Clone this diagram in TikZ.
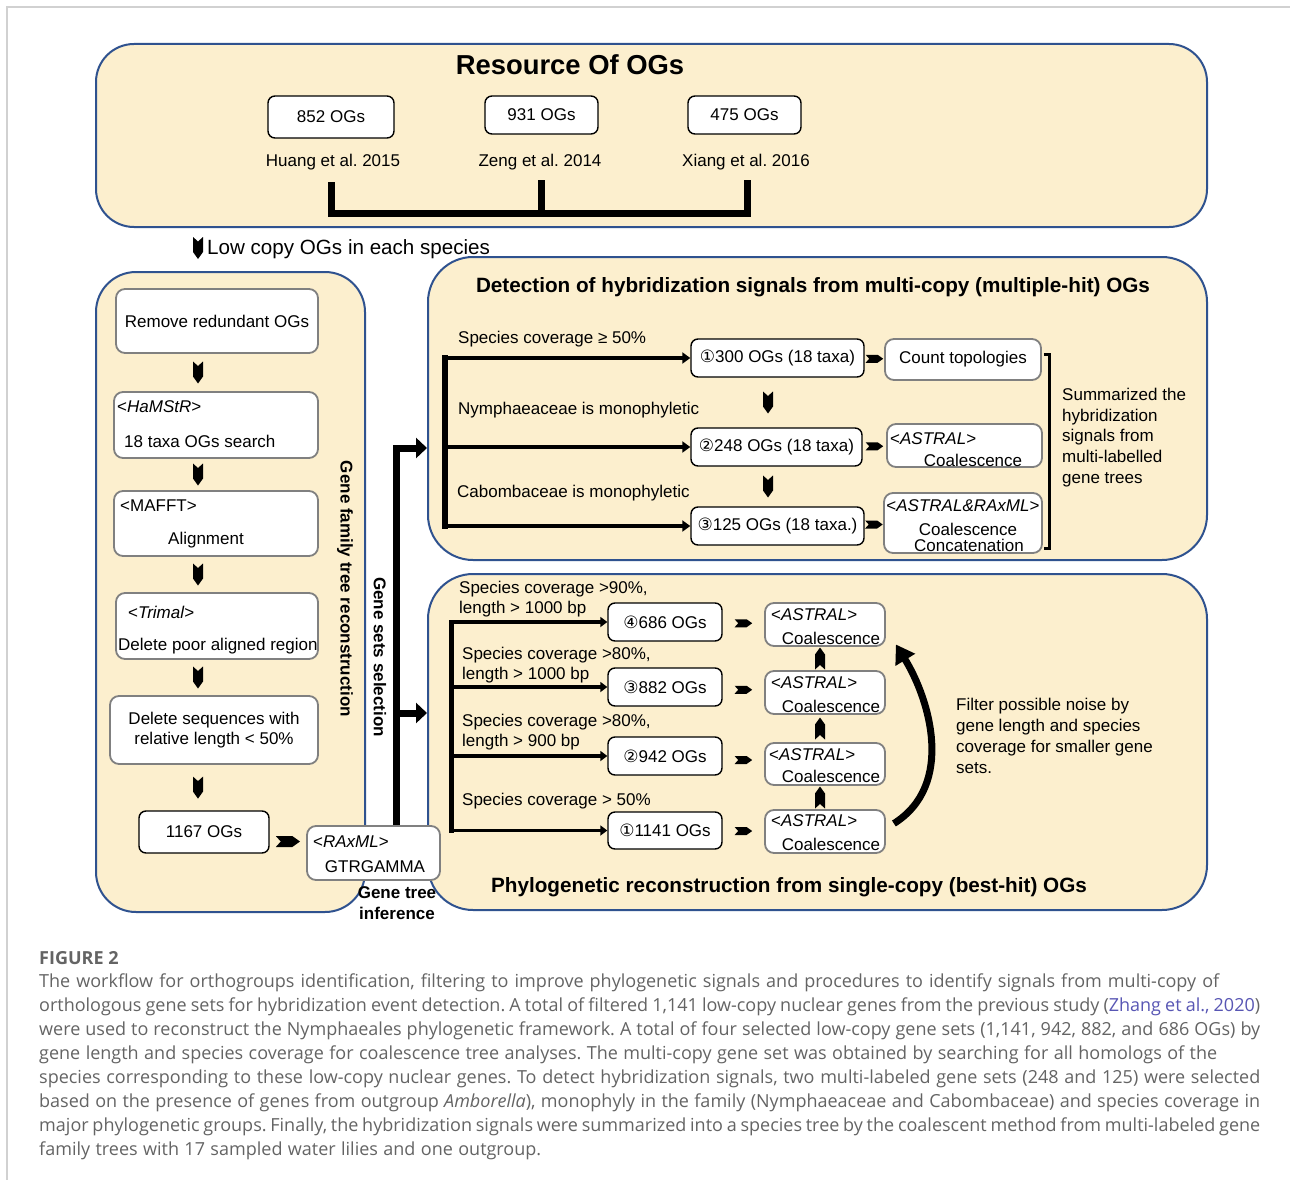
\documentclass[tikz,border=0pt]{standalone}
\usepackage{fontspec}
\setmainfont{Liberation Sans}
\newfontfamily\djv{DejaVu Sans}
\newfontfamily\capfont{Open Sans}
\usetikzlibrary{calc,arrows.meta}
\definecolor{cream}{RGB}{252,239,206}
\definecolor{pblue}{RGB}{47,82,143}
\definecolor{boxgray}{RGB}{128,128,128}
\definecolor{capgray}{RGB}{100,100,100}
\definecolor{linkblue}{RGB}{88,86,180}
\newcommand\myfs[2]{\fontsize{#1}{#2}\selectfont}
\newcommand\capline[2]{\makebox[#1][s]{#2}}
\frenchspacing
\tikzset{
 panel/.style={draw=pblue, fill=cream, line width=2pt, inner sep=0pt},
 wbox/.style={draw=boxgray, fill=white, line width=1.8pt, rounded corners=9pt, inner sep=0pt},
 kbox/.style={draw=black, fill=white, line width=1.4pt, rounded corners=7pt, inner sep=0pt},
 hdr/.style={font=\bfseries\myfs{20.7}{24}},
 vlab/.style={font=\bfseries\myfs{17}{20}, rotate=-90},
 bar/.style={line width=7pt},
 selarr/.style={line width=7pt, -{Triangle[length=11pt,width=20pt]}},
 darr/.style={line width=4.5pt, -{Triangle[length=8pt,width=11pt]}},
 larr/.style={line width=3.5pt, -{Triangle[length=7pt,width=10pt]}},
 chev/.pic={\fill (-5,-11) -- (0,-6.5) -- (5,-11) -- (5,4) -- (0,11) -- (-5,4) -- cycle;},
 captxt/.style={anchor=west, font=\capfont\frenchspacing\myfs{18}{24}, text=capgray},
}
\begin{document}
\frenchspacing
\begin{tikzpicture}[x=1pt,y=-1pt, every node/.style={inner sep=0pt, font=\frenchspacing\myfs{17}{20.5}}]
\useasboundingbox (0,0) rectangle (1290,1180);
\fill[white] (0,0) rectangle (1290,1180);
\draw[black!18, line width=1.2pt] (7,1180) -- (7,7) -- (1290,7);

% ---------- panels ----------
\node[panel, rounded corners=38pt, minimum width=1111pt, minimum height=183pt] (top) at (651.5,135.5) {};
\node[panel, rounded corners=40pt, minimum width=269pt, minimum height=640pt] (lp) at (230.5,592) {};
\node[panel, rounded corners=45pt, minimum width=779pt, minimum height=303pt] (dp) at (817.5,408.5) {};
\node[panel, rounded corners=45pt, minimum width=779pt, minimum height=336pt] (pp) at (817.5,742) {};

% ---------- resource of OGs ----------
\node[font=\bfseries\myfs{27.4}{30}] (ttl) at (570,65) {Resource Of OGs};
\node[kbox, minimum width=126pt, minimum height=42pt] (b1) at (331,117) {852 OGs};
\node[kbox, minimum width=113pt, minimum height=38pt] (b2) at (541.5,115) {931 OGs};
\node[kbox, minimum width=113pt, minimum height=38pt] (b3) at (744.5,115) {475 OGs};
\node (s1) at (333,162) {Huang et al. 2015};
\node (s2) at (540,162) {Zeng et al. 2014};
\node (s3) at (746,162) {Xiang et al. 2016};
\coordinate (j1) at (331,213);
\coordinate (j3) at (747,213);
\draw[bar] ($(s1.south -| j1)+(0,12)$) -- (j1) -- (j3) -- ($(s3.south -| j3)+(0,10)$);
\draw[bar] ($(s2.south)+(1,10)$) -- ($(s2.south |- j1)+(1,0)$);

% ---------- low copy ----------
\pic at (198,248) {chev};
\node[anchor=west, font=\myfs{20.6}{24}] (lowc) at (207,249) {Low copy OGs in each species};

% ---------- left column ----------
\node[wbox, minimum width=202pt, minimum height=64pt] (rm) at (217,321) {Remove redundant OGs};
\node[wbox, minimum width=204pt, minimum height=66pt] (ham) at (216,425) {};
\node[anchor=west] (hamt) at (117,407) {<\textit{HaMStR}>};
\node[anchor=west] (hamd) at (124,441) {18 taxa OGs search};
\node[wbox, minimum width=204pt, minimum height=65pt] (maf) at (216,523.5) {};
\node[anchor=west] (maft) at (120,506) {<MAFFT>};
\node (mafd) at (206,540) {Alignment};
\node[wbox, minimum width=202pt, minimum height=66pt] (tri) at (217,626) {};
\node[anchor=west] (trit) at (128,612) {<\textit{Trimal}>};
\node[anchor=west] (trid) at (118,646) {Delete poor aligned region};
\node[wbox, minimum width=208pt, minimum height=68pt, align=center] (del) at (214,730) {Delete sequences with\\relative length < 50\%};
\node[kbox, minimum width=130pt, minimum height=42pt] (og) at (204,832) {1167 OGs};

\coordinate (cx) at (198,0);
\coordinate (m1) at ($(rm.south)!0.5!(ham.north)$);
\coordinate (m2) at ($(ham.south)!0.5!(maf.north)$);
\coordinate (m3) at ($(maf.south)!0.5!(tri.north)$);
\coordinate (m4) at ($(tri.south)!0.5!(del.north)$);
\coordinate (m5) at ($(del.south)!0.5!(og.north)$);
\foreach \m in {m1,m2,m3,m4,m5} { \pic at (\m -| cx) {chev}; }

\node[wbox, minimum width=133pt, minimum height=54pt] (rax) at (373.5,853) {};
\node[anchor=west] (raxt) at (313,842) {<\textit{RAxML}>};
\node (raxd) at (375,867) {GTRGAMMA};
\coordinate (m6) at ($(og.east)!0.5!(rax.west)$);
\pic[rotate=90, scale=1.1] at ($(m6)+(0,-1)$) {chev};
\node[font=\bfseries\myfs{17}{21}, align=center] (gti) at (397,903) {Gene tree\\inference};

\node[vlab] (gftr) at (345,589) {Gene family tree reconstruction};
\node[vlab] (gss) at (380,657) {Gene sets selection};

\coordinate (sa) at (396,448);
\coordinate (sb) at (396,713);
\draw[selarr] (rax.north -| sa) -- (sa) -- (sa -| dp.west);
\draw[selarr] (sb) -- (sb -| pp.west);

% ---------- detection panel ----------
\node[hdr] (dtt) at (813,287) {Detection of hybridization signals from multi-copy (multiple-hit) OGs};
\node[kbox, minimum width=173pt, minimum height=38pt] (d1) at (777.5,358) {{\djv ①}300 OGs (18 taxa)};
\node[kbox, minimum width=171pt, minimum height=38pt] (d2) at (776.5,447) {{\djv ②}248 OGs (18 taxa)};
\node[kbox, minimum width=173pt, minimum height=38pt] (d3) at (777.5,526) {{\djv ③}125 OGs (18 taxa.)};
\node[anchor=west] (dl1) at (458,339) {Species coverage ≥ 50\%};
\node[anchor=west] (dl2) at (458,410) {Nymphaeaceae is monophyletic};
\node[anchor=west] (dl3) at (457,493) {Cabombaceae is monophyletic};
\coordinate (dx) at (445,0);
\draw[line width=6pt, line cap=rect] (d1.west -| dx) -- (d3.west -| dx);
\draw[darr] (d1.west -| dx) -- (d1.west);
\draw[darr] (d2.west -| dx) -- (d2.west);
\draw[darr] (d3.west -| dx) -- (d3.west);
\pic at ($(d1.south)!0.5!(d2.north)+(-9,0)$) {chev};
\pic at ($(d2.south)!0.5!(d3.north)+(-9,0)$) {chev};

\node[wbox, minimum width=156pt, minimum height=41pt] (ct) at (963,359.5) {Count topologies};
\node[wbox, minimum width=155pt, minimum height=43pt] (as1) at (964.5,445.5) {};
\node[anchor=west] (as1t) at (890,439) {<\textit{ASTRAL}>};
\node (as1d) at (973,460) {Coalescence};
\node[wbox, minimum width=158pt, minimum height=60pt] (as2) at (963,523) {};
\node (as2t) at (963,506) {<\textit{ASTRAL\&RAxML}>};
\node (as2d) at (968,529) {Coalescence};
\node (as2e) at (969,545) {Concatenation};
\pic[rotate=90, scale=0.8] at ($(d1.east)!0.5!(ct.west)$) {chev};
\pic[rotate=90, scale=0.8] at ($(d2.east)!0.5!(as1.west)$) {chev};
\pic[rotate=90, scale=0.8] at ($(d3.east)!0.5!(as2.west)$) {chev};
\draw[line width=3pt] ($(ct.east)+(2,-5)$) -- ++(6,0) |- ($(as2.east)+(1,25)$);
\node[anchor=west, align=left, font=\myfs{17}{20.75}] (sum) at (1062,437.5) {Summarized the\\hybridization\\signals from\\multi-labelled\\gene trees};

% ---------- phylogenetic panel ----------
\node[hdr] (ptt) at (789,887) {Phylogenetic reconstruction from single-copy (best-hit) OGs};
\node[kbox, minimum width=114pt, minimum height=38pt] (p4) at (665,622) {{\djv ④}686 OGs};
\node[kbox, minimum width=114pt, minimum height=38pt] (p3) at (665,687) {{\djv ③}882 OGs};
\node[kbox, minimum width=114pt, minimum height=38pt] (p2) at (665,756) {{\djv ②}942 OGs};
\node[kbox, minimum width=114pt, minimum height=37pt] (p1) at (665,830.5) {{\djv ①}1141 OGs};
\node[anchor=west, align=left, font=\myfs{17}{20}] (pl4) at (459,599) {Species coverage >90\%,\\length > 1000 bp};
\node[anchor=west, align=left, font=\myfs{17}{20}] (pl3) at (462,665.5) {Species coverage >80\%,\\length > 1000 bp};
\node[anchor=west, align=left, font=\myfs{17}{20}] (pl2) at (462,732) {Species coverage >80\%,\\length > 900 bp};
\node[anchor=west] (pl1) at (462,801) {Species coverage > 50\%};
\coordinate (px) at (451,0);
\draw[line width=5pt, line cap=rect] (p4.west -| px) -- (p1.west -| px);
\foreach \p in {p4,p3,p2,p1} { \draw[larr] (\p.west -| px) -- (\p.west); }

\node[wbox, minimum width=120pt, minimum height=43pt] (a4) at (825,624.5) {};
\node[wbox, minimum width=120pt, minimum height=43pt] (a3) at (825,692.5) {};
\node[wbox, minimum width=120pt, minimum height=42pt] (a2) at (825,764) {};
\node[wbox, minimum width=120pt, minimum height=43pt] (a1) at (825,831.5) {};
\node[anchor=west] (a4t) at (771,615) {<\textit{ASTRAL}>};
\node (a4d) at (831,638) {Coalescence};
\node[anchor=west] (a3t) at (771,683) {<\textit{ASTRAL}>};
\node (a3d) at (831,706) {Coalescence};
\node[anchor=west] (a2t) at (769,755) {<\textit{ASTRAL}>};
\node (a2d) at (831,776) {Coalescence};
\node[anchor=west] (a1t) at (771,821) {<\textit{ASTRAL}>};
\node (a1d) at (831,844) {Coalescence};
\foreach \p/\a in {p4/a4,p3/a3,p2/a2,p1/a1} { \pic[rotate=90, scale=0.8] at ($(\p.east)!0.5!(\a.west)$) {chev}; }
\pic[rotate=180] at ($(a1.north)!0.5!(a2.south)+(-5,0)$) {chev};
\pic[rotate=180] at ($(a2.north)!0.5!(a3.south)+(-5,0)$) {chev};
\pic[rotate=180] at ($(a3.north)!0.5!(a4.south)+(-5,0)$) {chev};
\draw[line width=7pt, -{Triangle[length=18pt,width=22pt]}] ($(a1.east)+(8,-8)$) .. controls (955,785) and (930,700) .. ($(a4.east)+(10,20)$);
\node[anchor=west, align=left, font=\myfs{17}{21}] (flt) at (956,735.5) {Filter possible noise by\\gene length and species\\coverage for smaller gene\\sets.};

% ---------- caption ----------
\node[captxt, font=\capfont\bfseries\myfs{18}{24}] (fig) at (39,958) {FIGURE 2};
\node[captxt] (c1) at (39,983) {\capline{1180pt}{The workflow for orthogroups identification, filtering to improve phylogenetic signals and procedures to identify signals from multi-copy of}};
\node[captxt] (c2) at (39,1007) {\capline{1221pt}{orthologous gene sets for hybridization event detection. A total of filtered 1,141 low-copy nuclear genes from the previous study (\textcolor{linkblue}{Zhang et al., 2020})}};
\node[captxt] (c3) at (39,1031) {\capline{1221pt}{were used to reconstruct the Nymphaeales phylogenetic framework. A total of four selected low-copy gene sets (1,141, 942, 882, and 686 OGs) by}};
\node[captxt] (c4) at (39,1055) {\capline{1178pt}{gene length and species coverage for coalescence tree analyses. The multi-copy gene set was obtained by searching for all homologs of the}};
\node[captxt] (c5) at (39,1079) {\capline{1221pt}{species corresponding to these low-copy nuclear genes. To detect hybridization signals, two multi-labeled gene sets (248 and 125) were selected}};
\node[captxt] (c6) at (39,1103) {\capline{1221pt}{based on the presence of genes from outgroup \textit{Amborella}), monophyly in the family (Nymphaeaceae and Cabombaceae) and species coverage in}};
\node[captxt] (c7) at (39,1127) {\capline{1221pt}{major phylogenetic groups. Finally, the hybridization signals were summarized into a species tree by the coalescent method from multi-labeled gene}};
\node[captxt] (c8) at (39,1151) {\capline{502pt}{family trees with 17 sampled water lilies and one outgroup.}};
\end{tikzpicture}
\end{document}
